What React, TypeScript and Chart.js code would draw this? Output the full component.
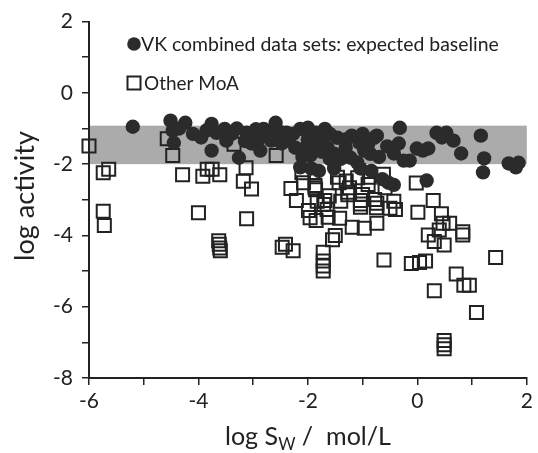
import React, { useEffect, useRef } from 'react';
import { Chart, registerables } from 'chart.js';

Chart.register(...registerables);

// VK combined data sets (filled circles)
const vkX = [
  -5.20, -4.51, -4.47, -4.45, -4.24, -4.10, -3.95, -3.76, -3.76, -3.67,
  -3.52, -3.49, -3.39, -3.26, -3.12, -3.03, -2.95, -2.81, -2.87, -2.70,
  -2.59, -2.67, -2.48, -2.39, -2.27, -2.14, -2.00, -1.85, -2.23, -2.05,
  -1.91, -1.76, -1.64, -1.46, -1.52, -1.31, -1.22, -1.06, -0.97, -0.79,
  -0.86, -1.69, -1.20, -1.40, -2.10, -1.95, -1.10, -2.14, -1.94, -1.80,
  -1.52, -1.04, -0.84, -0.64, -0.43, 0.17, -0.74, -0.32, -0.34, -0.43,
  -0.25, -0.14, -0.01, 0.20, 0.35, 0.53, 0.66, 0.80, 1.16, 1.22,
  1.20, 1.67, 1.80, 1.85, -0.70, -0.55, -0.53, -4.35, -3.85, -3.30,
  -3.15, -2.90, -2.50, -2.35, -1.60, -1.30, -1.00, -0.90, -1.60, -1.75,
  -2.00, 0.10, 0.45,
];
const vkY = [
  -0.95, -0.78, -1.06, -1.40, -0.84, -1.15, -1.25, -0.87, -1.62, -1.12,
  -1.01, -1.34, -1.15, -1.82, -1.12, -1.42, -1.02, -1.01, -1.62, -1.11,
  -0.84, -1.34, -1.42, -1.12, -1.15, -1.01, -0.98, -1.12, -1.54, -1.54,
  -1.42, -1.34, -1.54, -1.26, -1.71, -1.54, -1.82, -1.40, -1.62, -1.26,
  -1.71, -1.01, -1.20, -1.85, -1.80, -1.75, -1.95, -2.09, -2.12, -2.19,
  -2.12, -2.12, -2.19, -2.42, -2.58, -2.46, -1.20, -0.98, -1.42, -1.70,
  -1.90, -1.90, -1.56, -1.56, -1.12, -1.12, -1.34, -1.70, -1.20, -1.84,
  -2.23, -1.98, -2.09, -1.96, -1.80, -1.50, -2.52, -1.00, -1.05, -1.00,
  -1.35, -1.30, -1.10, -1.35, -1.15, -1.30, -1.15, -1.45, -1.85, -1.65,
  -1.30, -1.62, -1.25,
];

// Other MoA (open squares)
const moaX = [
  -6.00, -5.74, -5.64, -5.74, -5.72, -4.57, -4.47, -4.29, -4.00, -3.92,
  -3.84, -3.75, -3.61, -3.63, -3.62, -3.61, -3.60, -3.35, -3.13, -3.18,
  -3.03, -3.12, -2.58, -2.47, -2.41, -2.27, -2.31, -2.21, -2.11, -2.08,
  -1.99, -1.96, -1.85, -1.87, -1.87, -1.86, -1.83, -1.71, -1.69, -1.63,
  -1.61, -1.65, -1.72, -1.72, -1.72, -1.72, -1.55, -1.50, -1.42, -1.43,
  -1.40, -1.46, -1.30, -1.27, -1.27, -1.24, -1.19, -1.09, -1.04, -1.04,
  -1.04, -1.00, -0.97, -0.90, -0.88, -0.78, -0.74, -0.75, -0.74, -0.62,
  -0.59, -0.50, -0.43, -0.40, -0.61, -0.02, 0.01, -0.11, 0.04, 0.15,
  0.20, 0.29, 0.31, 0.31, 0.40, 0.44, 0.47, 0.49, 0.59, 0.49,
  0.49, 0.49, 0.71, 0.85, 0.95, 0.83, 0.83, 1.08, 1.43,
];
const moaY = [
  -1.49, -2.24, -2.14, -3.32, -3.72, -1.29, -1.76, -2.30, -3.36, -2.34,
  -2.14, -2.14, -2.30, -4.15, -4.25, -4.35, -4.43, -1.44, -2.10, -2.48,
  -2.70, -3.53, -1.76, -4.33, -4.25, -4.43, -2.68, -3.02, -2.24, -2.52,
  -3.30, -3.50, -3.58, -2.60, -2.66, -2.72, -3.04, -3.13, -3.02, -3.49,
  -2.89, -3.27, -4.47, -4.72, -4.86, -5.00, -4.12, -4.00, -3.52, -2.52,
  -3.04, -2.37, -2.47, -2.79, -2.86, -2.66, -3.77, -2.38, -3.02, -3.12,
  -3.21, -2.85, -3.80, -2.57, -2.37, -2.99, -3.10, -3.22, -3.66, -2.28,
  -2.66, -3.24, -3.04, -3.27, -4.69, -2.53, -3.35, -4.79, -4.76, -4.72,
  -3.99, -3.02, -5.55, -4.17, -3.85, -3.39, -3.66, -4.27, -3.66, -6.95,
  -7.07, -7.18, -5.08, -5.40, -5.40, -3.90, -3.99, -6.16, -4.62,
];

// Expected baseline band (log activity range)
const bandTop = -0.92;
const bandBottom = -2.0;

const xRange = [-6, 2];
const yRange = [-8, 2];
const xLabelTicks = [-6, -4, -2, 0, 2];
const yLabelTicks = [-8, -6, -4, -2, 0, 2];

const legendLabels = ['VK combined data sets: expected baseline', 'Other MoA'];
const yTitleText = 'log activity';
const xTitleParts = ['log S', 'W', ' /  mol/L'];

const FONT = 'Lato, "Open Sans", sans-serif';
const INK = '#222222';

function fitSize(ctx: CanvasRenderingContext2D, text: string, target: number, base: number) {
  ctx.font = `${base}px ${FONT}`;
  const w = ctx.measureText(text).width;
  return base * target / w;
}

const bandPlugin = {
  id: 'bandPlugin',
  beforeDatasetsDraw(chart: any) {
    const { ctx, scales } = chart;
    const xs = scales.x, ys = scales.y;
    const top = ys.getPixelForValue(bandTop);
    const bot = ys.getPixelForValue(bandBottom);
    ctx.save();
    ctx.fillStyle = '#ababab';
    ctx.fillRect(xs.left + 1, top, xs.right - xs.left - 1, bot - top);
    ctx.restore();
  },
};

const decorPlugin = {
  id: 'decorPlugin',
  afterDraw(chart: any) {
    const { ctx } = chart;
    ctx.save();
    ctx.fillStyle = INK;
    ctx.textBaseline = 'middle';
    ctx.textAlign = 'left';
    // legend
    const s1 = fitSize(ctx, legendLabels[0], 358, 19);
    ctx.beginPath();
    ctx.arc(134, 44, 6.8, 0, Math.PI * 2);
    ctx.fillStyle = '#2b2b2b';
    ctx.fill();
    ctx.fillStyle = INK;
    ctx.font = `${s1}px ${FONT}`;
    ctx.fillText(legendLabels[0], 141, 45);
    ctx.strokeStyle = INK;
    ctx.lineWidth = 2;
    ctx.strokeRect(134 - 6.5, 83 - 6.5, 13, 13);
    const s2 = fitSize(ctx, legendLabels[1], 95, 19);
    ctx.font = `${s2}px ${FONT}`;
    ctx.fillText(legendLabels[1], 144, 84);

    // y title
    const sy = fitSize(ctx, yTitleText, 130, 24);
    ctx.save();
    ctx.translate(25, 196);
    ctx.rotate(-Math.PI / 2);
    ctx.textAlign = 'center';
    ctx.textBaseline = 'middle';
    ctx.font = `${sy}px ${FONT}`;
    ctx.fillText(yTitleText, 0, 0);
    ctx.restore();

    // x title with subscript
    const main = 24, sub = 16;
    ctx.font = `${main}px ${FONT}`;
    const w0 = ctx.measureText(xTitleParts[0]).width;
    const w2 = ctx.measureText(xTitleParts[2]).width;
    ctx.font = `${sub}px ${FONT}`;
    const w1 = ctx.measureText(xTitleParts[1]).width;
    const total = w0 + w1 + w2;
    const k = 166 / total;
    const x0 = 308 - 83;
    const base = 445;
    ctx.textBaseline = 'alphabetic';
    ctx.textAlign = 'left';
    ctx.font = `${main * k}px ${FONT}`;
    ctx.fillText(xTitleParts[0], x0, base);
    ctx.font = `${sub * k}px ${FONT}`;
    ctx.fillText(xTitleParts[1], x0 + w0 * k, base + 5);
    ctx.font = `${main * k}px ${FONT}`;
    ctx.fillText(xTitleParts[2], x0 + (w0 + w1) * k, base);
    ctx.restore();
  },
};

export default function App() {
  const ref = useRef<HTMLCanvasElement>(null);
  useEffect(() => {
    if (!ref.current) return;
    const vkData = vkX.map((x, i) => ({ x, y: vkY[i] }));
    const moaData = moaX.map((x, i) => ({ x, y: moaY[i] }));
    const tickCb = (list: number[]) => (v: any) => (list.includes(Number(v)) ? String(v) : '');
    const chart = new Chart(ref.current, {
      type: 'scatter',
      data: {
        datasets: [
          {
            label: legendLabels[0],
            data: vkData,
            pointStyle: 'circle',
            pointRadius: 7.2,
            pointBackgroundColor: '#2b2b2b',
            pointBorderWidth: 0,
            clip: false,
          },
          {
            label: legendLabels[1],
            data: moaData,
            pointStyle: 'rect',
            pointRadius: 9.2,
            pointBackgroundColor: 'rgba(0,0,0,0)',
            pointBorderColor: INK,
            pointBorderWidth: 2,
            clip: false,
          },
        ],
      },
      options: {
        responsive: false,
        animation: false,
        devicePixelRatio: 1,
        layout: { padding: { top: 20, right: 7, left: 0, bottom: 0 } },
        plugins: { legend: { display: false }, tooltip: { enabled: false } },
        scales: {
          x: {
            type: 'linear',
            min: xRange[0],
            max: xRange[1],
            afterFit: (s: any) => { s.height = 75; },
            ticks: {
              stepSize: 1,
              autoSkip: false,
              maxRotation: 0,
              padding: 4,
              color: INK,
              font: { family: FONT, size: 21 },
              callback: tickCb(xLabelTicks),
            },
            grid: { drawOnChartArea: false, drawTicks: true, tickLength: 7, color: INK, lineWidth: 1.5 },
            border: { display: true, color: INK, width: 2 },
          },
          y: {
            type: 'linear',
            min: yRange[0],
            max: yRange[1],
            afterFit: (s: any) => { s.width = 89; },
            ticks: {
              stepSize: 1,
              autoSkip: false,
              padding: 9,
              color: INK,
              font: { family: FONT, size: 21 },
              callback: tickCb(yLabelTicks),
            },
            grid: { drawOnChartArea: false, drawTicks: true, tickLength: 7, color: INK, lineWidth: 1.5 },
            border: { display: true, color: INK, width: 2 },
          },
        },
      },
      plugins: [bandPlugin, decorPlugin],
    } as any);
    return () => chart.destroy();
  }, []);
  return (
    <div style={{ position: 'fixed', left: 0, top: 0, width: 538, height: 453, background: '#fff' }}>
      <canvas ref={ref} width={538} height={453} />
    </div>
  );
}
